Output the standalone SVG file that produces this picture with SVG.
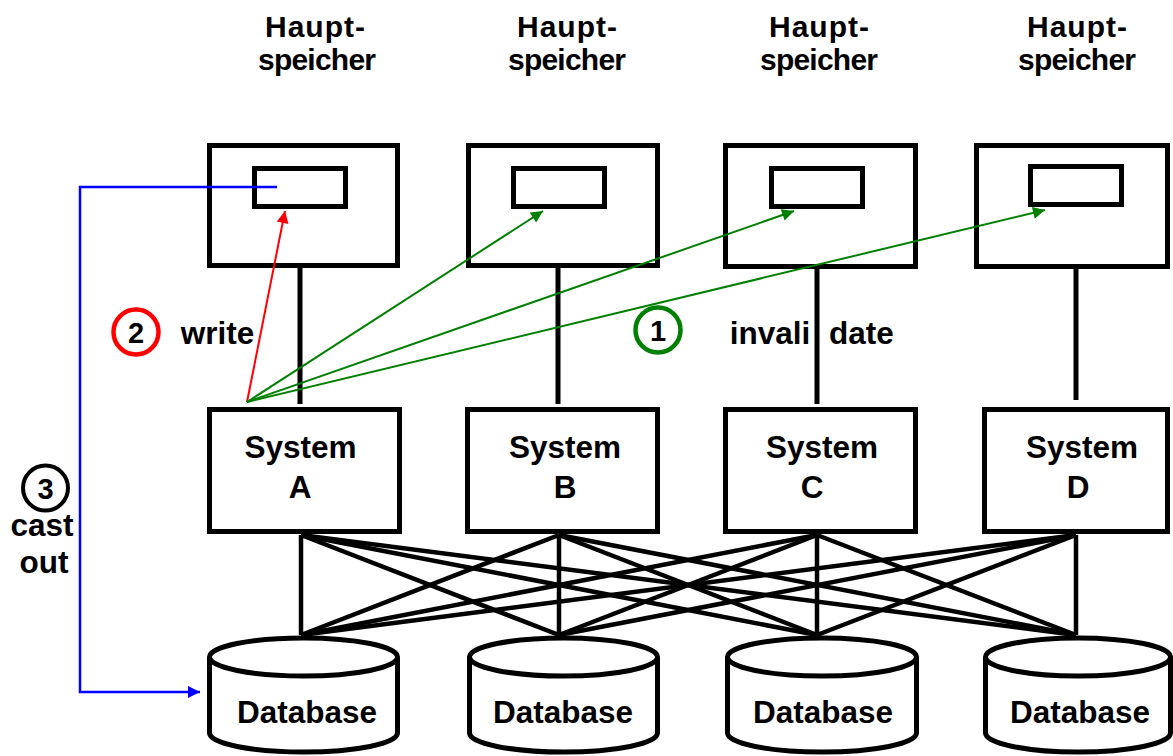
<svg xmlns="http://www.w3.org/2000/svg" width="1173" height="756" viewBox="0 0 1173 756">
<defs>
<style>
.box{fill:#fff;stroke:#000;stroke-width:5}
.inner{fill:#fff;stroke:#000;stroke-width:5}
.t{font-family:"Liberation Sans",Arial,sans-serif;font-weight:bold;font-size:31.5px;fill:#000;text-anchor:middle}
.h{font-size:30px}
.n{font-size:29px}
.link{stroke:#000;stroke-width:5;fill:none}
.mesh{stroke:#000;stroke-width:4.5;fill:none}
.db{fill:#fff;stroke:#000;stroke-width:5}
</style>
<marker id="ar" viewBox="0 0 10 10" refX="10" refY="5" markerWidth="18" markerHeight="12" markerUnits="userSpaceOnUse" orient="auto"><path d="M0,0 L10,5 L0,10 z" fill="red"/></marker>
<marker id="ag" viewBox="0 0 10 10" refX="10" refY="5" markerWidth="18" markerHeight="12" markerUnits="userSpaceOnUse" orient="auto"><path d="M0,0 L10,5 L0,10 z" fill="green"/></marker>
<marker id="ab" viewBox="0 0 10 10" refX="10" refY="5" markerWidth="18" markerHeight="12" markerUnits="userSpaceOnUse" orient="auto"><path d="M0,0 L10,5 L0,10 z" fill="blue"/></marker>
</defs>
<rect width="1173" height="756" fill="#fff"/>

<g id="labels-hauptspeicher">
<text class="t h" x="315" y="37" textLength="100" lengthAdjust="spacing">Haupt-</text><text class="t h" x="317" y="70" textLength="118" lengthAdjust="spacing">speicher</text>
<text class="t h" x="567" y="37" textLength="100" lengthAdjust="spacing">Haupt-</text><text class="t h" x="567" y="70" textLength="118" lengthAdjust="spacing">speicher</text>
<text class="t h" x="819" y="37" textLength="100" lengthAdjust="spacing">Haupt-</text><text class="t h" x="819" y="70" textLength="118" lengthAdjust="spacing">speicher</text>
<text class="t h" x="1077" y="37" textLength="100" lengthAdjust="spacing">Haupt-</text><text class="t h" x="1077" y="70" textLength="118" lengthAdjust="spacing">speicher</text>
</g>

<g id="connectors">
<g id="mem-sys-links">
<line class="link" x1="300" y1="266" x2="300" y2="404"/>
<line class="link" x1="558" y1="266" x2="558" y2="404"/>
<line class="link" x1="817" y1="266" x2="817" y2="404"/>
<line class="link" x1="1076" y1="263" x2="1076" y2="400"/>
</g>
<g id="mesh">
<line class="mesh" x1="301" y1="535" x2="301" y2="635"/>
<line class="mesh" x1="301" y1="535" x2="559" y2="635"/>
<line class="mesh" x1="301" y1="535" x2="817" y2="635"/>
<line class="mesh" x1="301" y1="535" x2="1076" y2="635"/>
<line class="mesh" x1="559" y1="535" x2="301" y2="635"/>
<line class="mesh" x1="559" y1="535" x2="559" y2="635"/>
<line class="mesh" x1="559" y1="535" x2="817" y2="635"/>
<line class="mesh" x1="559" y1="535" x2="1076" y2="635"/>
<line class="mesh" x1="817" y1="535" x2="301" y2="635"/>
<line class="mesh" x1="817" y1="535" x2="559" y2="635"/>
<line class="mesh" x1="817" y1="535" x2="817" y2="635"/>
<line class="mesh" x1="817" y1="535" x2="1076" y2="635"/>
<line class="mesh" x1="1076" y1="535" x2="301" y2="635"/>
<line class="mesh" x1="1076" y1="535" x2="559" y2="635"/>
<line class="mesh" x1="1076" y1="535" x2="817" y2="635"/>
<line class="mesh" x1="1076" y1="535" x2="1076" y2="635"/>
</g>
</g>

<g id="mem-A"><rect class="box" x="209.5" y="145.5" width="188" height="120"/><rect class="inner" x="254.5" y="168.5" width="91" height="38"/></g>
<g id="mem-B"><rect class="box" x="468.5" y="145.5" width="189" height="120"/><rect class="inner" x="513.5" y="168.5" width="91" height="38"/></g>
<g id="mem-C"><rect class="box" x="725.5" y="145.5" width="190" height="121"/><rect class="inner" x="771.5" y="168.5" width="91" height="38"/></g>
<g id="mem-D"><rect class="box" x="976.5" y="145.5" width="191" height="121"/><rect class="inner" x="1030.5" y="166.5" width="91" height="38"/></g>

<g id="sys-A"><rect class="box" x="209.5" y="409.5" width="190" height="122"/><text class="t" x="300.5" y="458">System</text><text class="t" x="300" y="498">A</text></g>
<g id="sys-B"><rect class="box" x="467.5" y="409.5" width="190" height="122"/><text class="t" x="565" y="458">System</text><text class="t" x="565" y="498">B</text></g>
<g id="sys-C"><rect class="box" x="725.5" y="409.5" width="190" height="122"/><text class="t" x="822" y="458">System</text><text class="t" x="812" y="498">C</text></g>
<g id="sys-D"><rect class="box" x="984.5" y="409.5" width="183" height="122"/><text class="t" x="1082" y="458">System</text><text class="t" x="1078" y="498">D</text></g>

<g id="db-A"><path class="db" d="M209.5,657 L209.5,733 A94,19 0 0 0 397.5,733 L397.5,657 A94,19 0 0 0 209.5,657 A94,19 0 0 0 397.5,657"/><text class="t" x="307" y="723">Database</text></g>
<g id="db-B"><path class="db" d="M469.5,657 L469.5,733 A94,19 0 0 0 657.5,733 L657.5,657 A94,19 0 0 0 469.5,657 A94,19 0 0 0 657.5,657"/><text class="t" x="563" y="723">Database</text></g>
<g id="db-C"><path class="db" d="M727.5,657 L727.5,733 A94.5,19 0 0 0 916.5,733 L916.5,657 A94.5,19 0 0 0 727.5,657 A94.5,19 0 0 0 916.5,657"/><text class="t" x="823" y="723">Database</text></g>
<g id="db-D"><path class="db" d="M985.5,657 L985.5,733 A92.5,19 0 0 0 1170.5,733 L1170.5,657 A92.5,19 0 0 0 985.5,657 A92.5,19 0 0 0 1170.5,657"/><text class="t" x="1080" y="723">Database</text></g>

<g id="flow-arrows">
<line x1="247" y1="402" x2="285" y2="211" stroke="red" stroke-width="2" marker-end="url(#ar)"/>
<line x1="247" y1="402" x2="543" y2="211" stroke="green" stroke-width="2" marker-end="url(#ag)"/>
<line x1="247" y1="402" x2="794" y2="211" stroke="green" stroke-width="2" marker-end="url(#ag)"/>
<line x1="247" y1="402" x2="1045" y2="210" stroke="green" stroke-width="2" marker-end="url(#ag)"/>
<polyline points="277,187 80,187 80,692 200,692" fill="none" stroke="blue" stroke-width="2.5" marker-end="url(#ab)"/>
</g>

<g id="label-write"><circle cx="136" cy="332" r="22.5" fill="#fff" stroke="red" stroke-width="4.5"/><text class="t n" x="136" y="343">2</text><text class="t" x="217.5" y="344">write</text></g>
<g id="label-invalidate"><circle cx="658" cy="330" r="22.5" fill="#fff" stroke="green" stroke-width="4.5"/><text class="t n" x="658" y="341">1</text><text class="t" x="770" y="344">invali</text><text class="t" x="861.5" y="344">date</text></g>
<g id="label-castout"><circle cx="45.5" cy="488" r="22.5" fill="#fff" stroke="#000" stroke-width="4"/><text class="t n" x="45.5" y="499">3</text><text class="t" x="42" y="536">cast</text><text class="t" x="44" y="573">out</text></g>
</svg>
